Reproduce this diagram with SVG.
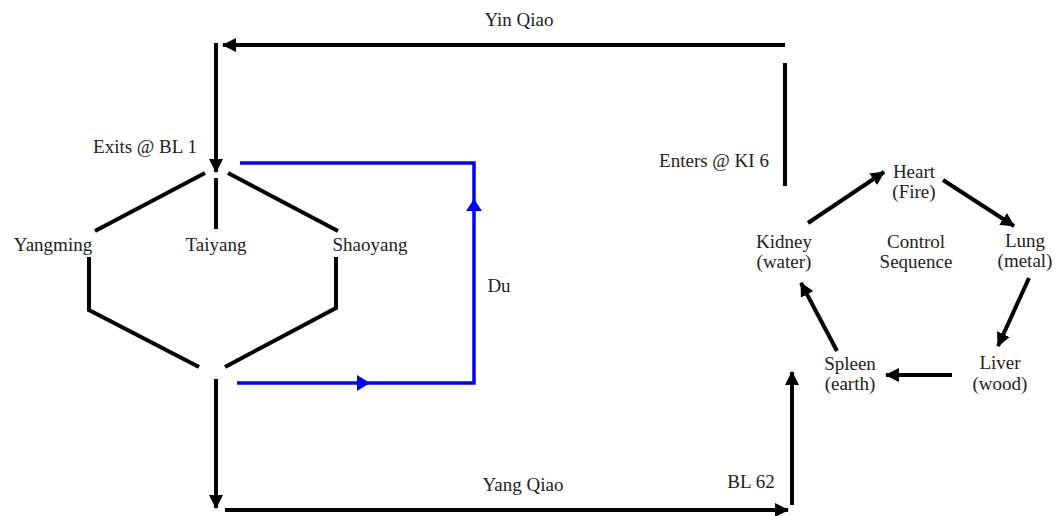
<svg xmlns="http://www.w3.org/2000/svg" width="1058" height="516" viewBox="0 0 1058 516">
<style>
text{font-family:"Liberation Serif","Times New Roman",serif;font-size:19px;fill:#222;text-anchor:middle}
.k{stroke:#000;stroke-width:4;fill:none}
.b{stroke:#0000ff;stroke-width:3.5;fill:none}
</style>
<defs>
<marker id="ah" markerUnits="userSpaceOnUse" markerWidth="14" markerHeight="14" refX="13" refY="7" orient="auto">
<path d="M0,0 L14,7 L0,14 Z" fill="#000"/>
</marker>
</defs>
<rect width="1058" height="516" fill="#fff"/>
<g id="connectors">
<line class="k" x1="785" y1="45" x2="223" y2="45" marker-end="url(#ah)"/>
<line class="k" x1="216" y1="43" x2="216" y2="172" marker-end="url(#ah)"/>
<line class="k" x1="785" y1="63" x2="785" y2="186"/>
<line class="k" x1="205" y1="173" x2="95" y2="231"/>
<line class="k" x1="216" y1="178" x2="216" y2="229"/>
<line class="k" x1="228" y1="173" x2="338" y2="231"/>
<polyline class="k" points="89,257 89,310 199,367"/>
<polyline class="k" points="336,257 336,308 225,367"/>
<line class="k" x1="216" y1="379" x2="216" y2="508" marker-end="url(#ah)"/>
<line class="k" x1="225" y1="510" x2="788" y2="510" marker-end="url(#ah)"/>
<line class="k" x1="792" y1="505" x2="792" y2="372" marker-end="url(#ah)"/>
<polyline class="b" points="240,163 474,163 474,383 237,383"/>
<path d="M474,199 L466,211 L482,211 Z" fill="#0000ff"/>
<path d="M370,383 L357,375 L357,391 Z" fill="#0000ff"/>
<line class="k" x1="808" y1="223" x2="884" y2="172" marker-end="url(#ah)"/>
<line class="k" x1="943" y1="180" x2="1014" y2="226" marker-end="url(#ah)"/>
<line class="k" x1="1029" y1="278" x2="998" y2="346" marker-end="url(#ah)"/>
<line class="k" x1="952" y1="375" x2="886" y2="375" marker-end="url(#ah)"/>
<line class="k" x1="837" y1="351" x2="801" y2="283" marker-end="url(#ah)"/>
</g>
<g id="labels">
<text x="519" y="26">Yin Qiao</text>
<text x="523" y="491">Yang Qiao</text>
<text x="751" y="488">BL 62</text>
<text x="145" y="153">Exits @ BL 1</text>
<text x="714" y="167">Enters @ KI 6</text>
<text x="499" y="292">Du</text>
</g>
<g id="yangming"><text x="53" y="251">Yangming</text></g>
<g id="taiyang"><text x="216" y="251">Taiyang</text></g>
<g id="shaoyang"><text x="370" y="251">Shaoyang</text></g>
<g id="heart"><text x="914" y="178">Heart</text><text x="914" y="198">(Fire)</text></g>
<g id="kidney"><text x="784" y="248">Kidney</text><text x="784" y="268">(water)</text></g>
<g id="control"><text x="916" y="248">Control</text><text x="916" y="268">Sequence</text></g>
<g id="lung"><text x="1025" y="247">Lung</text><text x="1025" y="267">(metal)</text></g>
<g id="spleen"><text x="850" y="370">Spleen</text><text x="850" y="390">(earth)</text></g>
<g id="liver"><text x="1000" y="369">Liver</text><text x="1000" y="390">(wood)</text></g>
</svg>
